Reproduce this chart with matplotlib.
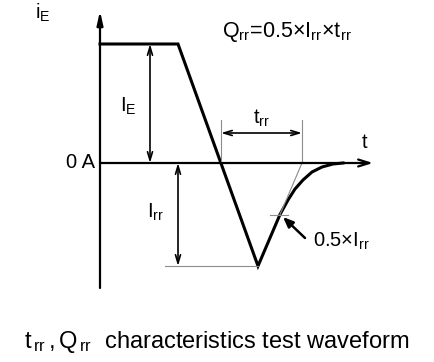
import matplotlib.pyplot as plt

plt.rcParams["font.family"] = ["Liberation Sans", "DejaVu Sans"]
plt.rcParams["mathtext.fontset"] = "custom"
plt.rcParams["mathtext.rm"] = "Liberation Sans"
plt.rcParams["mathtext.it"] = "Liberation Sans"

# waveform (time, current) in arbitrary units, 0 A at i = 0
wave_t = [0, 78, 158, 180, 188, 195, 203, 212, 222, 233, 243]
wave_i = [119, 119, -103, -51.5, -37, -26, -17, -9, -4, -1, 0]

I_E = 119
I_RR = -103
T_ZERO = 121      # zero crossing of falling edge
T_PEAK = 158      # reverse recovery peak
T_EXTRAP = 202    # tangent through 0.5*Irr meets zero
T_HALF = 180

GRAY = "#8c8c8c"

fig = plt.figure(figsize=(4.34, 3.62), dpi=100)
ax = fig.add_axes([0, 0, 1, 1])
ax.set_xlim(-100, 334)
ax.set_ylim(-199, 163)
ax.axis("off")

# axes with arrow heads
ax.annotate("", xy=(0, 152), xytext=(0, -125),
            arrowprops=dict(arrowstyle="-|>, head_length=0.8, head_width=0.18", lw=1.6, color="black",
                            shrinkA=0, shrinkB=0))
ax.annotate("", xy=(273, 0), xytext=(0, 0),
            arrowprops=dict(arrowstyle="->, head_length=0.8, head_width=0.25", lw=1.6, color="black",
                            shrinkA=0, shrinkB=0))

# waveform
ax.plot(wave_t, wave_i, color="black", lw=2.2, solid_joinstyle="miter")

# gray helper lines
ax.plot([T_HALF, T_EXTRAP], [I_RR / 2, 0], color=GRAY, lw=0.8)
ax.plot([T_ZERO, T_ZERO], [0, 43], color=GRAY, lw=0.8)
ax.plot([T_EXTRAP, T_EXTRAP], [0, 43], color=GRAY, lw=0.8)
ax.plot([65, T_PEAK], [I_RR, I_RR], color=GRAY, lw=0.8)
ax.plot([170, 188], [I_RR / 2, I_RR / 2], color=GRAY, lw=0.8)

dbl = dict(arrowstyle="<->, head_length=0.6, head_width=0.18", lw=1.2, color="black",
           shrinkA=0, shrinkB=0)
ax.annotate("", xy=(T_ZERO, 30), xytext=(T_EXTRAP, 30), arrowprops=dbl)
ax.annotate("", xy=(50, I_E), xytext=(50, 0), arrowprops=dbl)
ax.annotate("", xy=(78, 0), xytext=(78, I_RR), arrowprops=dbl)

# pointer to 0.5*Irr
ax.annotate("", xy=(183, -54), xytext=(205, -75),
            arrowprops=dict(arrowstyle="-|>, head_length=0.6, head_width=0.25", lw=1.8, color="black",
                            shrinkA=0, shrinkB=0))

fs = 14.5
ax.text(-57, 150, r"$\mathregular{i_E}$", fontsize=fs, ha="center", va="center")
ax.text(-5, 0, "0 A", fontsize=fs, ha="right", va="center")
ax.text(28, 57, r"$\mathregular{I_E}$", fontsize=fs, ha="center", va="center")
ax.text(56, -49, r"$\mathregular{I_{rr}}$", fontsize=fs, ha="center", va="center")
ax.text((T_ZERO + T_EXTRAP) / 2, 45, r"$\mathregular{t_{rr}}$", fontsize=fs, ha="center", va="center")
ax.text(265, 20, "t", fontsize=fs, ha="center", va="center")
ax.text(213, -78, r"0.5×$\mathregular{I_{rr}}$", fontsize=fs, ha="left", va="center")
ax.text(122, 131, r"$\mathregular{Q_{rr}}$=0.5×$\mathregular{I_{rr}}$×$\mathregular{t_{rr}}$", fontsize=15.5,
        ha="left", va="center")
ax.text(117, -179, r"$\mathregular{t_{\,rr}\,, Q_{\,rr}}$  characteristics test waveform", fontsize=17,
        ha="center", va="center")

fig.savefig("out.png", dpi=100)
